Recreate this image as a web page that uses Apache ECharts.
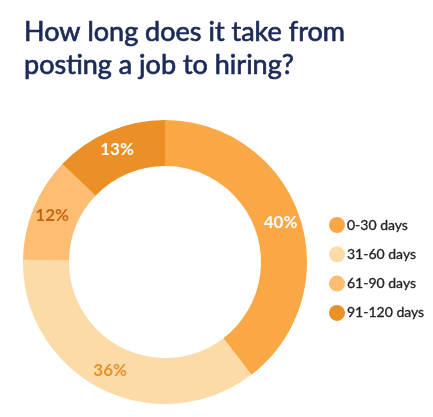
<!DOCTYPE html>
<html>
<head>
<meta charset="utf-8">
<script src="https://cdn.jsdelivr.net/npm/echarts@6/dist/echarts.min.js"></script>
<style>html,body{margin:0;padding:0;background:#fff;}#chart{width:433px;height:417px;}</style>
</head>
<body>
<div id="chart"></div>
<script>
const categories = ['0-30 days', '31-60 days', '61-90 days', '91-120 days'];
const values = [40, 36, 12, 13];
const sliceColors = ['#F9A845', '#FDDBA8', '#FDBD72', '#EA9026'];
const labelColors = ['#FFFFFF', '#E8902A', '#C2670F', '#FFFFFF'];
const titleText = 'How long does it take from\nposting a job to hiring?';

const chart = echarts.init(document.getElementById('chart'), null, {renderer: 'canvas'});
const FONT = 'Lato';
chart.setOption({
  animation: false,
  title: {
    text: titleText,
    left: 19,
    top: 11,
    textStyle: {
      fontFamily: FONT,
      fontSize: 27,
      fontWeight: 'normal',
      color: '#1B2A56',
      textBorderColor: '#1B2A56',
      textBorderWidth: 0.7,
      lineHeight: 33
    }
  },
  legend: {
    orient: 'vertical',
    left: 324,
    top: 212,
    icon: 'circle',
    itemWidth: 16,
    itemHeight: 16,
    itemGap: 13.3,
    textStyle: {fontFamily: FONT, fontSize: 14, color: '#222222', textBorderColor: '#222222', textBorderWidth: 0.3, padding: [0, 0, 0, -3]},
    data: categories
  },
  series: [{
    type: 'pie',
    center: [165, 262],
    radius: [96, 142],
    startAngle: 90,
    clockwise: true,
    avoidLabelOverlap: false,
    label: {
      show: true,
      position: 'inside',
      fontFamily: FONT,
      fontSize: 17,
      fontWeight: 'bold',
      formatter: p => p.value + '%'
    },
    labelLine: {show: false},
    emphasis: {disabled: true},
    data: categories.map((c, i) => ({
      name: c,
      value: values[i],
      itemStyle: {color: sliceColors[i]},
      label: {color: labelColors[i]}
    }))
  }]
});
</script>
</body>
</html>
